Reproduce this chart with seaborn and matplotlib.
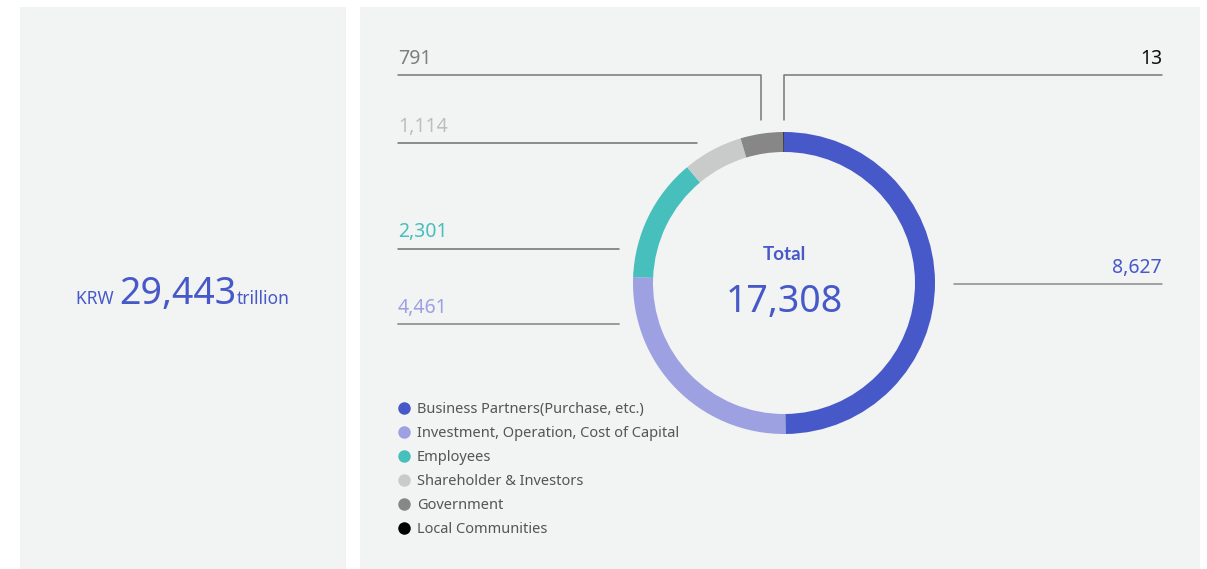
import matplotlib
matplotlib.use("Agg")
import matplotlib.pyplot as plt
from matplotlib.lines import Line2D
from matplotlib.patches import Rectangle
import seaborn as sns

# Value distribution (KRW trillion)
categories = [
    "Business Partners(Purchase, etc.)",
    "Investment, Operation, Cost of Capital",
    "Employees",
    "Shareholder & Investors",
    "Government",
    "Local Communities",
]
values = [8627, 4461, 2301, 1114, 791, 13]
value_labels = ["8,627", "4,461", "2,301", "1,114", "791", "13"]
total_label = "17,308"
grand_total_label = "29,443"

sns.set_theme(style="white")
plt.rcParams["font.family"] = ["Noto Sans", "DejaVu Sans"]

palette = sns.color_palette(
    ["#4759C9", "#9DA1E2", "#47BFBD", "#C9CACA", "#878787", "#000000"]
)
text_colors = ["#4759C9", "#9DA1E2", "#47BFBD", "#BDBEBE", "#7F7F7F", "#111111"]

W, H = 1207, 569
fig = plt.figure(figsize=(W / 100, H / 100), dpi=100)
fig.patch.set_facecolor("white")
ax = fig.add_axes([0, 0, 1, 1])
ax.set_xlim(0, W)
ax.set_ylim(0, H)
ax.set_aspect("equal")
ax.axis("off")

def Y(y):
    # convert top-down pixel row into axes coordinate
    return H - y

panel = "#F2F3F3"
ax.add_patch(Rectangle((20, 0), 326, Y(7), facecolor=panel, edgecolor="none", zorder=0))
ax.add_patch(Rectangle((360, 0), 840, Y(7), facecolor=panel, edgecolor="none", zorder=0))

# Donut
cx, cy, r = 784, Y(283), 151
ax.pie(values, colors=palette, startangle=90, counterclock=False,
       center=(cx, cy), radius=r, frame=True,
       wedgeprops=dict(width=20, edgecolor="none", linewidth=0))
ax.set_xlim(0, W)
ax.set_ylim(0, H)
ax.axis("off")

ax.text(cx, Y(254.5), "Total", ha="center", va="center", fontsize=13.5,
        fontweight="bold", family=["Lato", "DejaVu Sans"], color="#4759C9", zorder=5)
ax.text(cx, Y(302), total_label, ha="center", va="center", fontsize=27,
        color="#4759C9", zorder=5)

# Leader lines and value labels
lw = 1.1
line_dark = "#6E6E6E"
ly = 1.5  # label baseline nudge
# Government (791)
ax.plot([398, 761, 761], [Y(75), Y(75), Y(120)], color="#777777", lw=lw, zorder=3)
ax.text(398, Y(57 + ly), value_labels[4], ha="left", va="center", fontsize=14, color=text_colors[4])
# Local Communities (13)
ax.plot([784, 784, 1162], [Y(120), Y(75), Y(75)], color="#777777", lw=lw, zorder=3)
ax.text(1162, Y(57 + ly), value_labels[5], ha="right", va="center", fontsize=14, color=text_colors[5])
# Shareholder & Investors (1,114)
ax.plot([398, 697], [Y(143), Y(143)], color=line_dark, lw=lw, zorder=3)
ax.text(398, Y(125 + ly), value_labels[3], ha="left", va="center", fontsize=14, color=text_colors[3])
# Employees (2,301)
ax.plot([398, 619], [Y(249), Y(249)], color=line_dark, lw=lw, zorder=3)
ax.text(398, Y(230 + ly), value_labels[2], ha="left", va="center", fontsize=14, color=text_colors[2])
# Investment (4,461)
ax.plot([398, 619], [Y(324), Y(324)], color="#9A9A9A", lw=lw + 0.3, zorder=3)
ax.text(398, Y(306 + ly), value_labels[1], ha="left", va="center", fontsize=14, color=text_colors[1])
# Business Partners (8,627)
ax.plot([954, 1162], [Y(284), Y(284)], color="#8A8A8A", lw=lw, zorder=3)
ax.text(1162, Y(266 + ly), value_labels[0], ha="right", va="center", fontsize=14, color=text_colors[0])

# Legend
handles = [Line2D([0], [0], marker="o", linestyle="none", markersize=9,
                  markerfacecolor=c, markeredgecolor="none") for c in palette]
leg = ax.legend(handles, categories, loc="upper left",
                bbox_to_anchor=(392 / W, 1 - 396 / H), frameon=False,
                fontsize=10.5, labelcolor="#555555", handlelength=0.85,
                handletextpad=0.45, labelspacing=0.62, borderaxespad=0)

# Left panel headline
fig.canvas.draw()
renderer = fig.canvas.get_renderer()
base_y = Y(304)
parts = [("KRW ", 12.5), (grand_total_label, 27), ("trillion", 12.5)]
txts = []
x = 0
for s, fs in parts:
    t = ax.text(x, base_y, s, ha="left", va="baseline", fontsize=fs, color="#4759C9")
    txts.append(t)
inv = ax.transData.inverted()
widths = []
for t in txts:
    bb = t.get_window_extent(renderer)
    p0 = inv.transform((bb.x0, bb.y0))
    p1 = inv.transform((bb.x1, bb.y0))
    widths.append(p1[0] - p0[0])
total_w = sum(widths) + 2
x = 183 - total_w / 2
for t, w in zip(txts, widths):
    t.set_x(x)
    x += w + 1

fig.savefig("out.png", dpi=100, facecolor="white")
